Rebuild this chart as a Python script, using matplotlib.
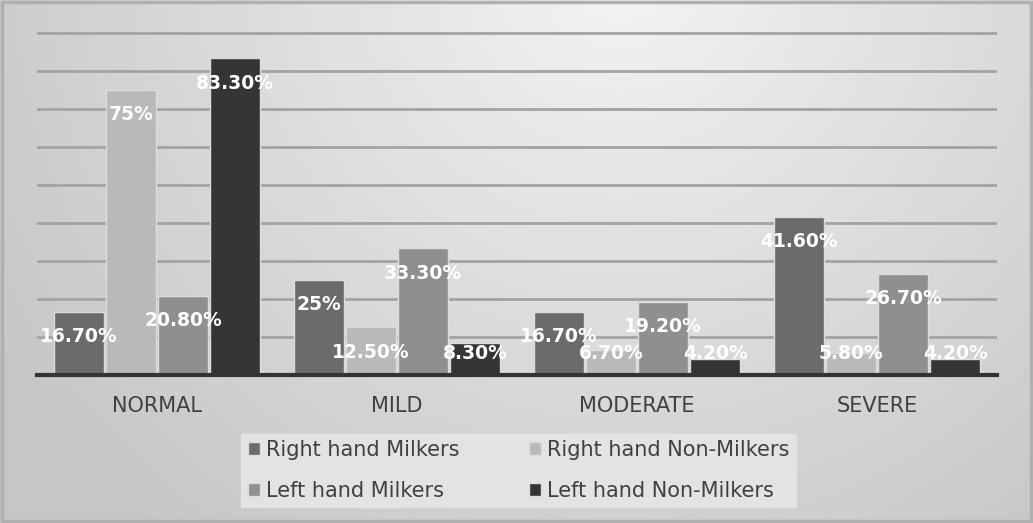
import numpy as np
import matplotlib.pyplot as plt
from matplotlib.patches import Rectangle

# data
categories = ['NORMAL', 'MILD', 'MODERATE', 'SEVERE']
series_names = ['Right hand Milkers', 'Right hand Non-Milkers',
                'Left hand Milkers', 'Left hand Non-Milkers']
rh_milkers = [16.7, 25.0, 16.7, 41.6]
rh_non_milkers = [75.0, 12.5, 6.7, 5.8]
lh_milkers = [20.8, 33.3, 19.2, 26.7]
lh_non_milkers = [83.3, 8.3, 4.2, 4.2]
labels = [['16.70%', '25%', '16.70%', '41.60%'],
          ['75%', '12.50%', '6.70%', '5.80%'],
          ['20.80%', '33.30%', '19.20%', '26.70%'],
          ['83.30%', '8.30%', '4.20%', '4.20%']]

series = [rh_milkers, rh_non_milkers, lh_milkers, lh_non_milkers]
colors = ['#6b6b6b', '#b9b9b9', '#8f8f8f', '#353535']

fig = plt.figure(figsize=(10.33, 5.23), dpi=100)

# radial gray background
bg = fig.add_axes([0, 0, 1, 1], zorder=-10)
yy, xx = np.mgrid[0:523, 0:1033]
d = np.hypot(xx - 620, yy + 40)
g = 0.965 - 0.16 * (d / 620) ** 0.9
g = np.clip(g, 0.78, 1)
bg.imshow(np.dstack([g, g, g]), aspect='auto', extent=[0, 1, 0, 1], origin='upper')
bg.set_xlim(0, 1)
bg.set_ylim(0, 1)
bg.axis('off')
bg.add_patch(Rectangle((0.002, 0.004), 0.996, 0.992, fill=False,
                       edgecolor='#b0b0b0', linewidth=2.5, transform=bg.transAxes))

ax = fig.add_axes([0.0358, 0.283, 0.9294, 0.6577])
ax.patch.set_alpha(0)

x = np.arange(len(categories))
width = 0.21
step = 0.217
for j, vals in enumerate(series):
    pos = x + (j - 1.5) * step
    ax.bar(pos, vals, width, color=colors[j], edgecolor='#dcdcdc', linewidth=1,
           label=series_names[j], zorder=3)
    for k, v in enumerate(vals):
        ax.text(pos[k], max(v - 6.5, 5.7), labels[j][k], ha='center', va='center',
                color='white', fontsize=13.5, fontweight='bold', zorder=5)

ax.set_xlim(-0.5, 3.5)
ax.set_ylim(0, 90.5)
ax.set_yticks(np.arange(10, 91, 10))
ax.yaxis.grid(True, color='#a3a3a3', linewidth=2, zorder=0)
ax.set_yticklabels([])
ax.tick_params(axis='y', length=0)
ax.set_xticks(x)
ax.set_xticklabels(categories, fontsize=15, color='#404040')
ax.tick_params(axis='x', length=0, pad=15)
for s in ['top', 'right', 'left']:
    ax.spines[s].set_visible(False)
ax.spines['bottom'].set_color('#333333')
ax.spines['bottom'].set_linewidth(3)
ax.spines['bottom'].set_zorder(6)

h, l = ax.get_legend_handles_labels()
order = [0, 2, 1, 3]
leg = fig.legend([h[i] for i in order], [l[i] for i in order], ncol=2,
                 loc='center', bbox_to_anchor=(0.502, 0.101), fontsize=15,
                 frameon=True, fancybox=False, facecolor='#e3e3e3',
                 edgecolor='#e3e3e3', handlelength=0.6, handleheight=0.6,
                 handletextpad=0.3, columnspacing=3.3, labelspacing=1.0,
                 borderpad=0.3, labelcolor='#404040')
leg.get_frame().set_alpha(1)

fig.savefig('out.png', dpi=100)
